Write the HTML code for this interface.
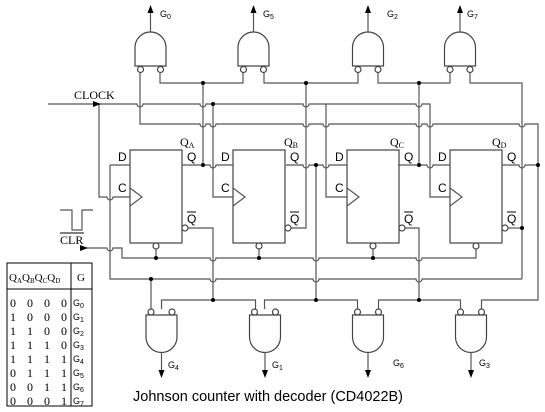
<!DOCTYPE html>
<html><head><meta charset="utf-8"><style>
html,body{margin:0;padding:0;background:#fff;}
svg{display:block;}
.w{fill:none;stroke:#555;stroke-width:1.2;}
.b{fill:#fff;stroke:#444;stroke-width:1.2;}
.s{font-family:"Liberation Sans",sans-serif;fill:#000;}
.r{font-family:"Liberation Serif",serif;fill:#000;}
</style></head><body>
<svg width="545" height="412" viewBox="0 0 545 412" xmlns="http://www.w3.org/2000/svg">
<defs>
<g id="tg"><path class="b" d="M-15.5,66 V47.5 A15.5,15.5 0 0 1 15.5,47.5 V66 Z"/><circle class="b" cx="-10" cy="69.5" r="3"/><circle class="b" cx="10" cy="69.5" r="3"/><path class="w" d="M0,32 V12"/><polygon points="0,5 -3,13 3,13" fill="#000"/></g>
<g id="bg"><path class="b" d="M-15.5,315 V337 A15.5,15.5 0 0 0 15.5,337 V315 Z"/><circle class="b" cx="-10.5" cy="312" r="3"/><circle class="b" cx="10.5" cy="312" r="3"/><path class="w" d="M0,352 V370"/><polygon points="0,378 -3,370 3,370" fill="#000"/></g>
<g id="ff"><rect class="b" x="0" y="150" width="52" height="93"/><path class="w" d="M0,188 L12,197 L0,206"/><circle class="b" cx="55" cy="228" r="3"/><circle class="b" cx="26" cy="246" r="3"/>
<text class="s" x="-12" y="161" font-size="12">D</text><text class="s" x="-12" y="192" font-size="12">C</text>
<text class="s" x="57" y="161" font-size="12">Q</text><text class="s" x="57" y="223" font-size="12">Q</text><path d="M57,212 H66" stroke="#000" stroke-width="1"/></g>
</defs>

<use href="#tg" x="150.5"/><use href="#tg" x="253.5"/><use href="#tg" x="368"/><use href="#tg" x="460"/>
<g class="s" font-size="9">
<text x="160" y="17">G<tspan font-size="7" dy="2">0</tspan></text>
<text x="263" y="17">G<tspan font-size="7" dy="2">5</tspan></text>
<text x="387" y="17">G<tspan font-size="7" dy="2">2</tspan></text>
<text x="467" y="17">G<tspan font-size="7" dy="2">7</tspan></text>
</g>

<use href="#ff" x="130"/><use href="#ff" x="233"/><use href="#ff" x="347"/><use href="#ff" x="450"/>
<g class="r" font-size="12">
<text x="180" y="146">Q<tspan font-size="8" dy="2">A</tspan></text>
<text x="284" y="146">Q<tspan font-size="8" dy="2">B</tspan></text>
<text x="390" y="146">Q<tspan font-size="8" dy="2">C</tspan></text>
<text x="492" y="146">Q<tspan font-size="8" dy="2">D</tspan></text>
</g>

<g class="w">
<path d="M48,104 H137 a3,3 0 0 0 6,0 H200 a3,3 0 0 0 6,0 H303 a3,3 0 0 0 6,0 H416 a3,3 0 0 0 6,0 H430 V197 H450"/>
<path d="M99,104 V197 H107 a3,3 0 0 0 6,0 H130"/>
<path d="M213,104 V197 H233"/>
<path d="M326,104 V197 H347"/>
<path d="M140,72.5 V124 H200 a3,3 0 0 0 6,0 H210 a3,3 0 0 0 6,0 H303 a3,3 0 0 0 6,0 H323 a3,3 0 0 0 6,0 H416 a3,3 0 0 0 6,0 H427 a3,3 0 0 0 6,0 H519 a3,3 0 0 0 6,0 H538 V300 H481.5 V309"/>
<path d="M160,72.5 V83 H243 V72.5"/><path d="M264,72.5 V83 H358 V72.5"/>
<path d="M378,72.5 V83 H450 V72.5"/><path d="M470,72.5 V83 H522 V279"/>
<path d="M203,83 V165"/><path d="M182,165 H210 a3,3 0 0 0 6,0 H233"/>
<path d="M188,228 H213 V300"/>
<path d="M161.5,309 V300 H255.5 V309"/>
<path d="M286,165 H303 a3,3 0 0 0 6,0 H323 a3,3 0 0 0 6,0 H347"/>
<path d="M316,165 V300"/><path d="M291,228 H306 V83"/>
<path d="M264.5,309 V300 H357.5 V309"/>
<path d="M398,165 H427 a3,3 0 0 0 6,0 H450"/>
<path d="M419,83 V165"/><path d="M405,228 H419 V300"/>
<path d="M378.5,309 V300 H460.5 V309"/>
<path d="M502,165 H519 a3,3 0 0 0 6,0 H538"/>
<path d="M508,228 H522"/>
<path d="M110,165 H130"/>
<path d="M110,165 V279 H210 a3,3 0 0 0 6,0 H313 a3,3 0 0 0 6,0 H416 a3,3 0 0 0 6,0 H522"/>
<path d="M151,279 V309"/>
<path d="M80,248 H107 a3,3 0 0 0 6,0 H122 V258 H210 a3,3 0 0 0 6,0 H313 a3,3 0 0 0 6,0 H416 a3,3 0 0 0 6,0 H476 V249"/>
<path d="M156,249 V258 M259,249 V258 M373,249 V258"/>
<path d="M60,210 H72 V230 H82 V210 H93"/>
</g>
<g fill="#000">
<circle cx="203" cy="83" r="2"/><circle cx="306" cy="83" r="2"/><circle cx="419" cy="83" r="2"/>
<circle cx="213" cy="104" r="2"/>
<circle cx="203" cy="165" r="2"/><circle cx="316" cy="165" r="2"/><circle cx="419" cy="165" r="2"/><circle cx="538" cy="165" r="2"/>
<circle cx="522" cy="228" r="2"/>
<circle cx="156" cy="258" r="2"/><circle cx="259" cy="258" r="2"/><circle cx="373" cy="258" r="2"/>
<circle cx="151" cy="279" r="2"/>
<circle cx="213" cy="300" r="2"/><circle cx="316" cy="300" r="2"/><circle cx="419" cy="300" r="2"/>
<polygon points="101,104 93,101 93,107"/><polygon points="88,248 80,245 80,251"/>
</g>
<text class="r" x="74" y="99" font-size="12">CLOCK</text>
<text class="r" x="60" y="244" font-size="12">CLR</text><path d="M60,233 H84" stroke="#000" stroke-width="1"/>

<use href="#bg" x="161.5"/><use href="#bg" x="265"/><use href="#bg" x="368"/><use href="#bg" x="471"/>
<g class="s" font-size="9">
<text x="168" y="368">G<tspan font-size="7" dy="2">4</tspan></text>
<text x="272" y="368">G<tspan font-size="7" dy="2">1</tspan></text>
<text x="393" y="366">G<tspan font-size="7" dy="2">6</tspan></text>
<text x="479" y="366">G<tspan font-size="7" dy="2">3</tspan></text>
</g>

<rect x="7" y="263" width="85" height="143" fill="none" stroke="#000" stroke-width="1"/>
<path d="M71,263 V406 M7,289 H92" stroke="#000" stroke-width="1"/>
<g class="r" font-size="11">
<text x="9" y="281">Q<tspan font-size="7" dy="2">A</tspan><tspan dy="-2">Q</tspan><tspan font-size="7" dy="2">B</tspan><tspan dy="-2">Q</tspan><tspan font-size="7" dy="2">C</tspan><tspan dy="-2">Q</tspan><tspan font-size="7" dy="2">D</tspan></text>
<text x="77" y="281">G</text>
</g>
<g class="r" font-size="12">
<text x="10" y="307" textLength="57">0 0 0 0</text>
<text x="10" y="321" textLength="57">1 0 0 0</text>
<text x="10" y="335" textLength="57">1 1 0 0</text>
<text x="10" y="349" textLength="57">1 1 1 0</text>
<text x="10" y="363" textLength="57">1 1 1 1</text>
<text x="10" y="377" textLength="57">0 1 1 1</text>
<text x="10" y="391" textLength="57">0 0 1 1</text>
<text x="10" y="405" textLength="57">0 0 0 1</text>
</g>
<g class="s" font-size="9">
<text x="73" y="306">G<tspan font-size="7" dy="2">0</tspan></text>
<text x="73" y="320">G<tspan font-size="7" dy="2">1</tspan></text>
<text x="73" y="334">G<tspan font-size="7" dy="2">2</tspan></text>
<text x="73" y="348">G<tspan font-size="7" dy="2">3</tspan></text>
<text x="73" y="362">G<tspan font-size="7" dy="2">4</tspan></text>
<text x="73" y="376">G<tspan font-size="7" dy="2">5</tspan></text>
<text x="73" y="390">G<tspan font-size="7" dy="2">6</tspan></text>
<text x="73" y="404">G<tspan font-size="7" dy="2">7</tspan></text>
</g>

<text class="s" x="133" y="401" font-size="14.5">Johnson counter with decoder (CD4022B)</text>
</svg>
</body></html>
